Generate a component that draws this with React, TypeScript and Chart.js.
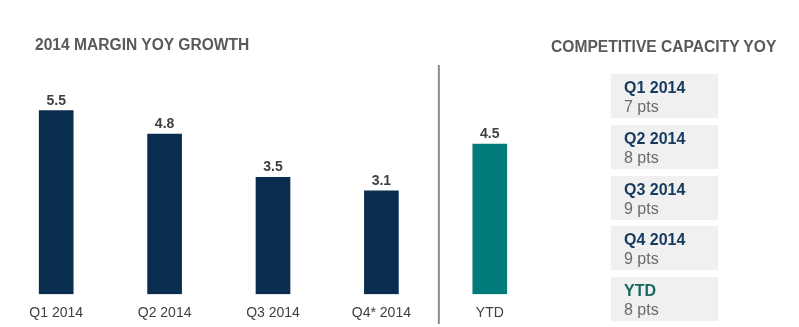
import React, { useEffect, useRef } from "react";
import { Chart, registerables } from "chart.js";

Chart.register(...registerables);

const categories = ["Q1 2014", "Q2 2014", "Q3 2014", "Q4* 2014", "YTD"];
const marginGrowth = [5.5, 4.8, 3.5, 3.1, 4.5];
const barColors = ["#0a2c4f", "#0a2c4f", "#0a2c4f", "#0a2c4f", "#007b79"];

const capacityQuarters = ["Q1 2014", "Q2 2014", "Q3 2014", "Q4 2014", "YTD"];
const capacityPts = [7, 8, 9, 9, 8];

const FONT = "'Liberation Sans', Arial, Helvetica, sans-serif";

const overlayPlugin = {
  id: "overlay",
  afterDatasetsDraw(chart: any) {
    const ctx = chart.ctx;
    const meta = chart.getDatasetMeta(0);
    const xs = chart.scales.x;
    ctx.save();
    // value labels
    ctx.font = `bold 14px ${FONT}`;
    ctx.fillStyle = "#404040";
    ctx.textAlign = "center";
    ctx.textBaseline = "middle";
    meta.data.forEach((bar: any, i: number) => {
      ctx.fillText(marginGrowth[i].toFixed(1), bar.x, bar.y - 10);
    });
    // separator between quarters and YTD
    const p3 = xs.getPixelForValue(3);
    const p4 = xs.getPixelForValue(4);
    const sx = p3 + (p4 - p3) * 0.53;
    ctx.strokeStyle = "#8c8c8c";
    ctx.lineWidth = 2;
    ctx.beginPath();
    ctx.moveTo(sx, 65);
    ctx.lineTo(sx, 324);
    ctx.stroke();
    ctx.restore();
  },
};

export default function App() {
  const ref = useRef<HTMLCanvasElement>(null);

  useEffect(() => {
    if (!ref.current) return;
    const chart = new Chart(ref.current, {
      type: "bar",
      data: {
        labels: categories,
        datasets: [
          {
            data: marginGrowth,
            backgroundColor: barColors,
            borderWidth: 0,
            barThickness: 34,
          },
        ],
      },
      options: {
        animation: false,
        responsive: false,
        events: [],
        layout: { padding: { left: 2, right: 255, top: 94, bottom: -6 } },
        plugins: {
          legend: { display: false },
          tooltip: { enabled: false },
        },
        scales: {
          x: {
            grid: { display: false, drawTicks: false },
            border: { display: false },
            ticks: {
              color: "#404040",
              padding: 11,
              font: { family: FONT, size: 14 },
            },
          },
          y: {
            display: false,
            min: 0,
            max: 6,
          },
        },
      },
      plugins: [overlayPlugin],
    });
    return () => chart.destroy();
  }, []);

  const titleStyle: React.CSSProperties = {
    position: "absolute",
    fontFamily: FONT,
    fontWeight: "bold",
    fontSize: "15.6px",
    color: "#595959",
    whiteSpace: "nowrap",
    lineHeight: "18px",
  };

  return (
    <div
      style={{
        position: "absolute",
        left: 0,
        top: 0,
        width: 799,
        height: 327,
        background: "#ffffff",
        overflow: "hidden",
      }}
    >
      <canvas
        ref={ref}
        width={799}
        height={327}
        style={{ position: "absolute", left: 0, top: 0, width: 799, height: 327 }}
      />
      <div style={{ ...titleStyle, left: 35, top: 36 }}>2014 MARGIN YOY GROWTH</div>
      <div style={{ ...titleStyle, left: 551, top: 38 }}>COMPETITIVE CAPACITY YOY</div>
      {capacityQuarters.map((q, i) => (
        <div
          key={q}
          style={{
            position: "absolute",
            left: 611,
            top: 74 + i * 50.75,
            width: 107,
            height: 44,
            background: "#f0f0f0",
            boxSizing: "border-box",
            padding: "4px 0 0 13px",
            fontFamily: FONT,
            fontSize: "16px",
            lineHeight: "19px",
          }}
        >
          <div style={{ fontWeight: "bold", color: q === "YTD" ? "#17675f" : "#163a5f" }}>{q}</div>
          <div style={{ color: "#6b6b6b" }}>{capacityPts[i]} pts</div>
        </div>
      ))}
    </div>
  );
}
